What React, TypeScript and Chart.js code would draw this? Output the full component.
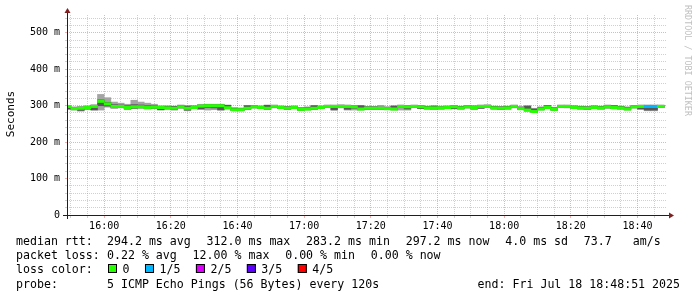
import React, { useEffect, useRef } from 'react';
import { Chart, registerables } from 'chart.js';

Chart.register(...registerables);

// ---- time axis (minutes since 15:00) ----
const X_MIN = 48 + 51 / 60; // 15:48:51
const X_MAX = 228 + 51 / 60; // 18:48:51
const FIRST_STEP_CENTER = 49; // first 2-minute step 15:48-15:50
const STEP_MIN = 2;
const xTickValues = [50, 55, 60, 65, 70, 75, 80, 85, 90, 95, 100, 105, 110, 115, 120, 125, 130, 135, 140, 145, 150, 155, 160, 165, 170, 175, 180, 185, 190, 195, 200, 205, 210, 215, 220, 225];
const xLabelEvery = 20;

// ---- value axis (ms) ----
const Y_MIN = 0;
const Y_MAX = 549;
const yTickValues = [0, 20, 40, 60, 80, 100, 120, 140, 160, 180, 200, 220, 240, 260, 280, 300, 320, 340, 360, 380, 400, 420, 440, 460, 480, 500, 520, 540];
const yLabelEvery = 100;

// ---- per-step values (ms), 5 pings sorted: min, 2nd, median, 4th, max ----
const pingMin = [290, 288, 285, 290, 287, 288, 296, 293, 294, 290, 292, 293, 291, 292, 288, 291, 288, 293, 286, 292,
  290, 288, 289, 287, 291, 286, 286, 290, 294, 292, 290, 294, 292, 290, 292, 287, 288, 290, 292, 295,
  287, 294, 288, 288, 288, 290, 290, 290, 289, 288, 288, 288, 295, 292, 291, 290, 291, 292, 291, 291,
  294, 290, 292, 295, 291, 290, 291, 294, 289, 285, 281, 288, 292, 287, 295, 294, 292, 291, 290, 292,
  291, 293, 291, 291, 288, 294, 290, 286, 286, 295];
const pingLow = [291, 289, 287, 291, 289, 300, 299, 294, 295, 291, 293, 294, 292, 293, 289, 291, 289, 294, 288, 292,
  291, 295, 294, 289, 292, 287, 287, 290, 294, 292, 290, 295, 292, 290, 292, 288, 289, 290, 292, 295,
  289, 295, 290, 293, 289, 290, 290, 290, 289, 289, 295, 291, 295, 292, 291, 291, 291, 292, 292, 291,
  294, 291, 293, 295, 291, 290, 291, 295, 290, 286, 282, 289, 292, 288, 295, 295, 292, 291, 290, 292,
  291, 294, 292, 291, 289, 294, 291, 288, 288, 295];
const median = [298, 292, 293, 295, 298, 312, 305, 298, 298, 295, 297, 297, 295, 296, 295, 294, 293, 297, 293, 295,
  299, 300, 300, 300, 294.5, 289, 289, 293, 297, 295, 293, 298, 295, 293, 295, 290, 291, 293, 295, 298,
  298, 298, 298, 297, 291, 293, 293, 293, 292, 291, 298, 297, 298, 297, 294, 294, 294, 295, 297, 294,
  297, 295, 298, 298, 294, 293, 294, 298, 292, 288, 284, 291, 295, 290, 298, 298, 295, 294, 293, 295,
  294, 297, 295, 294, 291, 297, 298, 298, 298, 298];
const pingHigh = [300, 295, 296, 298, 301, 316, 309, 303, 302, 300, 303, 302, 300, 300, 298, 298, 298, 300, 299, 299,
  302, 303, 303, 303, 301, 293, 292, 300, 300, 298, 301, 301, 298, 297, 298, 294, 295, 300, 298, 301,
  301, 301, 301, 300, 300, 297, 297, 296, 296, 299, 301, 300, 301, 300, 298, 299, 297, 298, 300, 298,
  300, 299, 301, 301, 298, 297, 298, 301, 296, 299, 291, 295, 300, 294, 301, 301, 299, 298, 297, 299,
  298, 300, 300, 298, 295, 300, 301, 301, 301, 301];
const pingMax = [301, 297, 298, 300, 303, 331, 322, 310, 307, 304, 315, 310, 307, 304, 300, 300, 299, 302, 300, 300,
  303, 304, 304, 304, 302, 295, 294, 301, 301, 300, 302, 302, 300, 298, 300, 295, 297, 301, 300, 302,
  302, 303, 302, 301, 301, 298, 298, 301, 297, 300, 302, 301, 302, 301, 299, 300, 299, 300, 301, 299,
  301, 300, 302, 303, 299, 298, 299, 302, 298, 300, 293, 297, 301, 296, 302, 302, 300, 299, 298, 300,
  299, 302, 301, 299, 297, 301, 302, 302, 302, 302];
const lossCount = [0, 0, 0, 0, 0, 0, 0, 0, 0, 0, 0, 0, 0, 0, 0, 0, 0, 0, 0, 0,
  0, 0, 0, 0, 0, 0, 0, 0, 0, 0, 0, 0, 0, 0, 0, 0, 0, 0, 0, 0,
  0, 0, 0, 0, 0, 0, 0, 0, 0, 0, 0, 0, 0, 0, 0, 0, 0, 0, 0, 0,
  0, 0, 0, 0, 0, 0, 0, 0, 0, 0, 0, 0, 0, 0, 0, 0, 0, 0, 0, 0,
  0, 0, 0, 0, 0, 0, 0, 1, 1, 0];

// ---- legend ----
const lossLabels = ['0', '1/5', '2/5', '3/5', '4/5'];
const lossColors = ['#26ff00', '#00b8ff', '#dd00ff', '#5e00ff', '#ff0000'];
const rttStats = ['294.2 ms avg', '312.0 ms max', '283.2 ms min', '297.2 ms now', '4.0 ms sd', '73.7   am/s'];
const lossStats = ['0.22 % avg', '12.00 % max', '0.00 % min', '0.00 % now'];
const probeText = '5 ICMP Echo Pings (56 Bytes) every 120s';
const endText = 'end: Fri Jul 18 18:48:51 2025';
const yTitle = 'Seconds';
const watermark = 'RRDTOOL / TOBI OETIKER';

// ---- styles ----
const W = 697;
const H = 297;
const MEDIAN_HALF = 3.2;
const GRID = 'rgba(143,143,143,0.42)';
const MGRID = 'rgba(222,79,79,0.45)';
const AXIS = 'rgb(31,31,31)';
const ARROW = 'rgb(128,31,31)';
const SMOKE_OUTER = '#a4a4a4';
const SMOKE_INNER = '#585858';
const MONO = '"DejaVu Sans Mono", monospace';

const fmtTime = (v: number) => {
  const h = 15 + Math.floor(v / 60);
  const m = v % 60;
  return `${h}:${m < 10 ? '0' + m : m}`;
};

const decor = {
  id: 'rrdDecor',
  beforeDraw(chart: any) {
    const ctx = chart.ctx;
    ctx.save();
    ctx.fillStyle = '#ffffff';
    ctx.fillRect(0, 0, chart.width, chart.height);
    ctx.restore();
  },
  afterDraw(chart: any) {
    const ctx: CanvasRenderingContext2D = chart.ctx;
    const { left, right, top, bottom } = chart.chartArea;
    ctx.save();
    // axes
    ctx.strokeStyle = AXIS;
    ctx.lineWidth = 1;
    ctx.setLineDash([]);
    ctx.beginPath();
    ctx.moveTo(left - 4, bottom + 0.5);
    ctx.lineTo(right + 4, bottom + 0.5);
    ctx.moveTo(left + 0.5, bottom + 4);
    ctx.lineTo(left + 0.5, top - 4);
    ctx.stroke();
    // arrows
    ctx.fillStyle = ARROW;
    ctx.beginPath();
    ctx.moveTo(right + 2, bottom + 0.5 - 3);
    ctx.lineTo(right + 2, bottom + 0.5 + 3);
    ctx.lineTo(right + 7, bottom + 0.5);
    ctx.closePath();
    ctx.fill();
    ctx.beginPath();
    ctx.moveTo(left + 0.5 - 3, top - 2);
    ctx.lineTo(left + 0.5 + 3, top - 2);
    ctx.lineTo(left + 0.5, top - 7);
    ctx.closePath();
    ctx.fill();

    // y title
    ctx.fillStyle = '#000';
    ctx.font = `11px ${MONO}`;
    ctx.save();
    ctx.translate(11, (top + bottom) / 2 - 1);
    ctx.rotate(-Math.PI / 2);
    ctx.textAlign = 'center';
    ctx.textBaseline = 'middle';
    ctx.fillText(yTitle, 0, 0);
    ctx.restore();

    // watermark
    ctx.save();
    ctx.fillStyle = '#c0c0c0';
    ctx.font = `8.4px ${MONO}`;
    ctx.translate(687, 5);
    ctx.rotate(Math.PI / 2);
    ctx.textAlign = 'left';
    ctx.textBaseline = 'middle';
    ctx.fillText(watermark, 0, 0);
    ctx.restore();

    // legend
    ctx.font = `11.6px ${MONO}`;
    ctx.fillStyle = '#000';
    ctx.textAlign = 'left';
    ctx.textBaseline = 'alphabetic';
    const labelX = 16;
    const valueX = 107;
    const gap = 15.8;
    const rows = [245, 259, 273, 288];
    const drawItems = (items: string[], y: number) => {
      let x = valueX;
      items.forEach((t) => {
        ctx.fillText(t, x, y);
        x += ctx.measureText(t).width + gap;
      });
    };
    ctx.fillText('median rtt:', labelX, rows[0]);
    drawItems(rttStats, rows[0]);
    ctx.fillText('packet loss:', labelX, rows[1]);
    drawItems(lossStats, rows[1]);
    ctx.fillText('loss color:', labelX, rows[2]);
    let x = valueX + 1;
    lossLabels.forEach((lbl, i) => {
      ctx.fillStyle = lossColors[i];
      ctx.fillRect(x, rows[2] - 9, 9, 9);
      ctx.strokeStyle = '#000';
      ctx.lineWidth = 1;
      ctx.strokeRect(x + 0.5, rows[2] - 9 + 0.5, 8, 8);
      ctx.fillStyle = '#000';
      ctx.fillText(lbl, x + 14.5, rows[2]);
      x += 14.5 + ctx.measureText(lbl).width + 15.5;
    });
    ctx.fillText('probe:', labelX, rows[3]);
    ctx.fillText(probeText, valueX, rows[3]);
    ctx.textAlign = 'right';
    ctx.fillText(endText, 680, rows[3]);
    ctx.restore();
  },
};

export default function App() {
  const ref = useRef<HTMLCanvasElement>(null);
  useEffect(() => {
    if (!ref.current) return;
    const xs = median.map((_, i) => FIRST_STEP_CENTER + STEP_MIN * i);
    const chart = new Chart(ref.current, {
      type: 'bar',
      data: {
        datasets: [
          {
            label: 'median rtt',
            data: median.map((m, i) => ({ x: xs[i], y: [m - MEDIAN_HALF, m + MEDIAN_HALF] })) as any,
            backgroundColor: lossCount.map((l) => lossColors[l]),
            order: 1,
          },
          {
            label: 'smoke inner',
            data: median.map((_, i) => ({ x: xs[i], y: [pingLow[i], pingHigh[i]] })) as any,
            backgroundColor: SMOKE_INNER,
            order: 2,
          },
          {
            label: 'smoke outer',
            data: median.map((_, i) => ({ x: xs[i], y: [pingMin[i], pingMax[i]] })) as any,
            backgroundColor: SMOKE_OUTER,
            order: 3,
          },
        ],
      },
      options: {
        animation: false,
        responsive: false,
        devicePixelRatio: 1,
        layout: { padding: { top: 15, right: 30, left: 0, bottom: 0 } },
        plugins: { legend: { display: false }, tooltip: { enabled: false } },
        datasets: {
          bar: { barPercentage: 1, categoryPercentage: 1, grouped: false, borderWidth: 0 },
        } as any,
        scales: {
          x: {
            type: 'linear',
            offset: false,
            min: X_MIN,
            max: X_MAX,
            afterBuildTicks: (s: any) => {
              s.ticks = xTickValues.map((v) => ({ value: v }));
            },
            afterFit: (s: any) => {
              s.height = H - 215;
            },
            grid: {
              offset: false,
              color: (c: any) => (c.tick && c.tick.value % xLabelEvery === 0 ? MGRID : GRID),
              lineWidth: 1,
              drawTicks: true,
              tickLength: 3,
            },
            border: { display: false, dash: [1, 1] },
            ticks: {
              autoSkip: false,
              maxRotation: 0,
              padding: 2,
              color: '#000',
              font: { family: MONO, size: 10 },
              callback: (v: any) => (Number(v) % xLabelEvery === 0 ? fmtTime(Number(v)) : ''),
            },
          },
          y: {
            type: 'linear',
            offset: false,
            min: Y_MIN,
            max: Y_MAX,
            afterBuildTicks: (s: any) => {
              s.ticks = yTickValues.map((v) => ({ value: v }));
            },
            afterFit: (s: any) => {
              s.width = 67;
            },
            grid: {
              offset: false,
              color: (c: any) => (c.tick && c.tick.value % yLabelEvery === 0 ? MGRID : GRID),
              lineWidth: 1,
              drawTicks: true,
              tickLength: 2,
            },
            border: { display: false, dash: [1, 1] },
            ticks: {
              autoSkip: false,
              padding: 5,
              color: '#000',
              font: { family: MONO, size: 10 },
              callback: (v: any) => {
                const n = Number(v);
                if (n % yLabelEvery !== 0) return '';
                return n === 0 ? '0' : `${n} m`;
              },
            },
          },
        },
      },
      plugins: [decor],
    });
    return () => chart.destroy();
  }, []);
  return (
    <div style={{ position: 'absolute', left: 0, top: 0, width: W, height: H, background: '#fff' }}>
      <canvas ref={ref} width={W} height={H} style={{ width: W, height: H, display: 'block' }} />
    </div>
  );
}
